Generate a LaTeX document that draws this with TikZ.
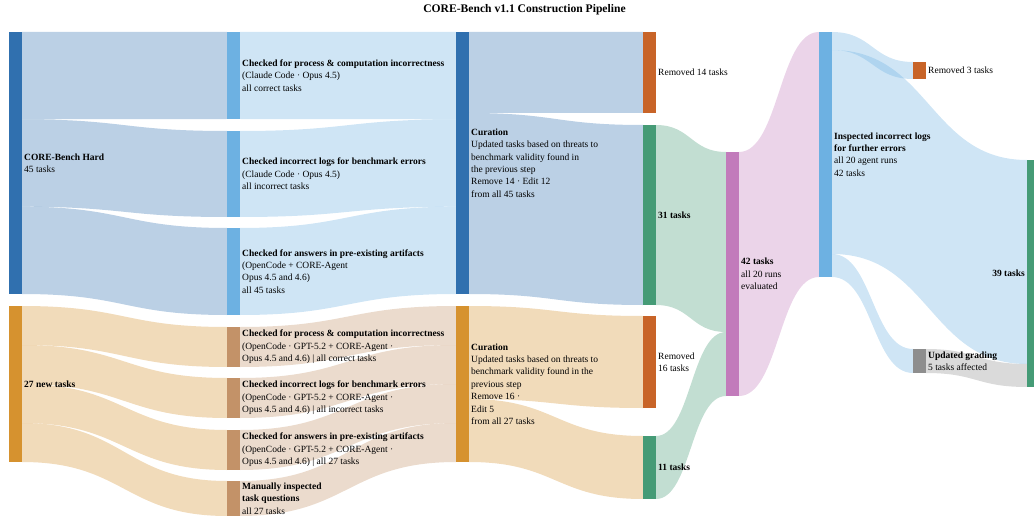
\documentclass[tikz,border=0pt]{standalone}
\usepackage{fontspec}
\setmainfont{Liberation Serif}
\usepackage{tikz}
\usetikzlibrary{positioning,calc}
\pgfdeclarelayer{background}
\pgfsetlayers{background,main}
\definecolor{dkblue}{HTML}{3070AF}
\definecolor{ltblue}{HTML}{6DB1E2}
\definecolor{amber}{HTML}{D6922F}
\definecolor{tan}{HTML}{C39268}
\definecolor{rust}{HTML}{C86428}
\definecolor{keep}{HTML}{459B76}
\definecolor{plum}{HTML}{C27BBB}
\definecolor{mgrey}{HTML}{8E8E8E}
\newcommand{\lblfont}{\fontsize{9.5}{12.4}\selectfont}
\tikzstyle{bar}=[rectangle, inner sep=0pt, outer sep=0pt, minimum width=13pt,
  anchor=north west]
\tikzstyle{lbl}=[inner sep=0pt, align=left, font=\lblfont]
\tikzstyle{link}=[fill opacity=0.33]
\newcommand{\stage}[5]{\node[bar, fill=#5, minimum height=#4pt] (#1) at (#2,#3) {};}
% colour, source, from, to, target, from, to (offsets below the node tops)
\newcommand{\flow}[7]{%
\begin{pgfonlayer}{background}
\coordinate (s1) at ($(#2.north east)+(0,#3)$);
\coordinate (s2) at ($(#2.north east)+(0,#4)$);
\coordinate (t1) at ($(#5.north west)+(0,#6)$);
\coordinate (t2) at ($(#5.north west)+(0,#7)$);
\coordinate (mid) at ($(s1)!.5!(t1)$);
\fill[link, #1] (s1) .. controls (mid |- s1) and (mid |- t1) .. (t1)
  -- (t2) .. controls (mid |- t2) and (mid |- s2) .. (s2) -- cycle;
\end{pgfonlayer}}

\begin{document}
\begin{tikzpicture}[x=1pt, y=-1pt]
  \useasboundingbox (0,0) rectangle (1034,516);

  % title
  \node[font=\fontsize{11.6}{14}\selectfont\bfseries] (title) at (524.5,10)
    {CORE-Bench v1.1 Construction Pipeline};

  % bars
  \stage{hard}{9}{32}{262}{dkblue}
  \stage{newt}{9}{306}{156}{amber}
  \stage{chkA}{227}{32}{87}{ltblue}
  \stage{chkB}{227}{131}{86}{ltblue}
  \stage{chkC}{227}{228}{87}{ltblue}
  \stage{ochkA}{227}{327}{40}{tan}
  \stage{ochkB}{227}{378}{40}{tan}
  \stage{ochkC}{227}{430}{40}{tan}
  \stage{manual}{227}{481}{35}{tan}
  \stage{curA}{456}{32}{262}{dkblue}
  \stage{curB}{456}{306}{156}{amber}
  \stage{remA}{643}{32}{81}{rust}
  \stage{keepA}{643}{125}{180}{keep}
  \stage{remB}{643}{316}{92}{rust}
  \stage{keepB}{643}{436}{63}{keep}
  \stage{pooled}{726}{152}{244}{plum}
  \stage{inspect}{819}{32}{245}{ltblue}
  \stage{remC}{913}{62}{17}{rust}
  \stage{grading}{913}{349}{24}{mgrey}
  \stage{final}{1027}{160}{227}{keep}

  % flows
  \flow{dkblue}{hard}{0}{87.3}{chkA}{0}{87}
  \flow{dkblue}{hard}{87.3}{174.7}{chkB}{0}{86}
  \flow{dkblue}{hard}{174.7}{262}{chkC}{0}{87}
  \flow{ltblue}{chkA}{0}{87}{curA}{0}{87.3}
  \flow{ltblue}{chkB}{0}{86}{curA}{87.3}{174.7}
  \flow{ltblue}{chkC}{0}{87}{curA}{174.7}{262}
  \flow{amber}{newt}{0}{39}{ochkA}{0}{40}
  \flow{amber}{newt}{39}{78}{ochkB}{0}{40}
  \flow{amber}{newt}{78}{117}{ochkC}{0}{40}
  \flow{amber}{newt}{117}{156}{manual}{0}{35}
  \flow{tan}{ochkA}{0}{40}{curB}{0}{39}
  \flow{tan}{ochkB}{0}{40}{curB}{39}{78}
  \flow{tan}{ochkC}{0}{40}{curB}{78}{117}
  \flow{tan}{manual}{0}{35}{curB}{117}{156}
  \flow{dkblue}{curA}{0}{81}{remA}{0}{81}
  \flow{dkblue}{curA}{81}{262}{keepA}{0}{180}
  \flow{amber}{curB}{0}{93}{remB}{0}{92}
  \flow{amber}{curB}{93}{156}{keepB}{0}{63}
  \flow{keep}{keepA}{0}{180}{pooled}{0}{180}
  \flow{keep}{keepB}{0}{63}{pooled}{180}{244}
  \flow{plum}{pooled}{0}{244}{inspect}{0}{245}
  \flow{ltblue}{inspect}{0}{18}{remC}{0}{17}
  \flow{ltblue}{inspect}{18}{222}{final}{0}{204}
  \flow{ltblue}{inspect}{222}{245}{grading}{0}{24}
  \flow{mgrey}{grading}{0}{24}{final}{204}{227}

  % labels
  \node[lbl, right=2pt of hard] {\textbf{CORE-Bench Hard}\\45 tasks};
  \node[lbl, right=2pt of newt] {\textbf{27 new tasks}};
  \node[lbl, right=2pt of chkA] {\textbf{Checked for process \& computation incorrectness}\\(Claude Code · Opus 4.5)\\all correct tasks};
  \node[lbl, right=2pt of chkB] {\textbf{Checked incorrect logs for benchmark errors}\\(Claude Code · Opus 4.5)\\all incorrect tasks};
  \node[lbl, right=2pt of chkC] {\textbf{Checked for answers in pre-existing artifacts}\\(OpenCode + CORE-Agent\\Opus 4.5 and 4.6)\\all 45 tasks};
  \node[lbl, right=2pt of ochkA] {\textbf{Checked for process \& computation incorrectness}\\(OpenCode · GPT-5.2 + CORE-Agent ·\\Opus 4.5 and 4.6) | all correct tasks};
  \node[lbl, right=2pt of ochkB] {\textbf{Checked incorrect logs for benchmark errors}\\(OpenCode · GPT-5.2 + CORE-Agent ·\\Opus 4.5 and 4.6) | all incorrect tasks};
  \node[lbl, right=2pt of ochkC] {\textbf{Checked for answers in pre-existing artifacts}\\(OpenCode · GPT-5.2 + CORE-Agent ·\\Opus 4.5 and 4.6) | all 27 tasks};
  \node[lbl, right=2pt of manual] {\textbf{Manually inspected}\\\textbf{task questions}\\all 27 tasks};
  \node[lbl, right=2pt of curA] {\textbf{Curation}\\Updated tasks based on threats to\\benchmark validity found in\\the previous step\\Remove 14 · Edit 12\\from all 45 tasks};
  \node[lbl, right=2pt of curB] {\textbf{Curation}\\Updated tasks based on threats to\\benchmark validity found in the\\previous step\\Remove 16 ·\\Edit 5\\from all 27 tasks};
  \node[lbl, right=2pt of remA] {Removed 14 tasks};
  \node[lbl, right=2pt of keepA] {\textbf{31 tasks}};
  \node[lbl, right=2pt of remB] {Removed\\16 tasks};
  \node[lbl, right=2pt of keepB] {\textbf{11 tasks}};
  \node[lbl, right=2pt of pooled] {\textbf{42 tasks}\\all 20 runs\\evaluated};
  \node[lbl, right=2pt of inspect] {\textbf{Inspected incorrect logs}\\\textbf{for further errors}\\all 20 agent runs\\42 tasks};
  \node[lbl, right=2pt of remC] {Removed 3 tasks};
  \node[lbl, right=2pt of grading] {\textbf{Updated grading}\\5 tasks affected};
  \node[lbl, left=2pt of final, align=right] {\textbf{39 tasks}};
\end{tikzpicture}
\end{document}
